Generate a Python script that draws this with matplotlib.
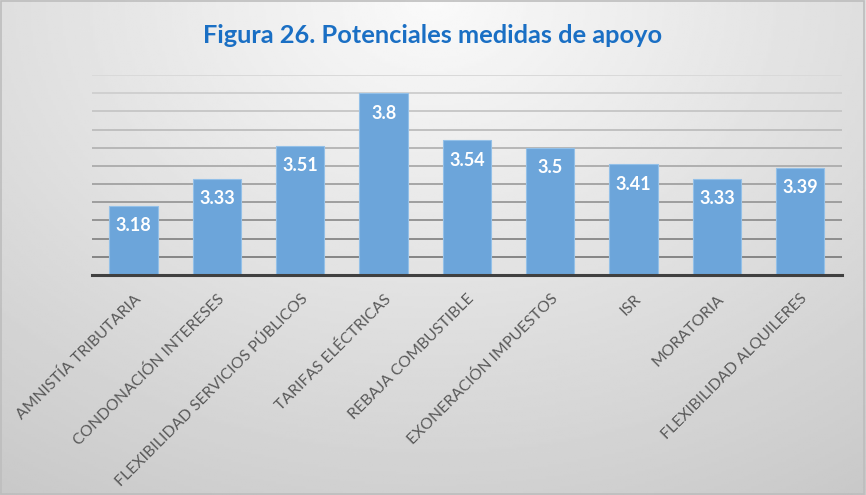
import matplotlib
matplotlib.use("Agg")
import matplotlib.pyplot as plt
import numpy as np

categories = ["AMNISTÍA TRIBUTARIA", "CONDONACIÓN INTERESES",
              "FLEXIBILIDAD SERVICIOS PÚBLICOS", "TARIFAS ELÉCTRICAS",
              "REBAJA COMBUSTIBLE", "EXONERACIÓN IMPUESTOS", "ISR",
              "MORATORIA", "FLEXIBILIDAD ALQUILERES"]
values = [3.18, 3.33, 3.51, 3.8, 3.54, 3.5, 3.41, 3.33, 3.39]
value_labels = ["3.18", "3.33", "3.51", "3.8", "3.54", "3.5", "3.41", "3.33", "3.39"]
title = "Figura 26. Potenciales medidas de apoyo"

plt.rcParams['font.family'] = ['Lato', 'DejaVu Sans']

fig = plt.figure(figsize=(8.66, 4.95), dpi=100)

# gradient background (light at top centre, darker towards the corners)
bg = fig.add_axes([0, 0, 1, 1], zorder=-10)
yy, xx = np.mgrid[0:1:200j, 0:1:350j]
dist = np.sqrt(((xx - 0.5) * 1.2) ** 2 + (yy * 0.9) ** 2)
shade = 0.98 - 0.18 * np.clip(dist, 0, 1.2)
bg.imshow(shade, cmap='gray', vmin=0, vmax=1, aspect='auto', extent=[0, 1, 1, 0])
bg.set_xlim(0, 1)
bg.set_ylim(1, 0)
bg.axis('off')
bg.add_patch(plt.Rectangle((0.001, 0.002), 0.997, 0.995, fill=False,
                           edgecolor='#bdbdbd', linewidth=1.2))

ax = fig.add_axes([0.1062, 0.4444, 0.866, 0.4040])
ax.patch.set_alpha(0)
x = np.arange(len(categories))
bars = ax.bar(x, values, width=0.58, color='#6ca5da', edgecolor='#93c0e8',
              linewidth=0.8, zorder=3)

for b, lab in zip(bars, value_labels):
    ax.text(b.get_x() + b.get_width() / 2, b.get_height() - 0.11, lab,
            ha='center', va='center', color='white', fontsize=13,
            fontweight='bold', zorder=4)

ax.set_ylim(2.8, 3.9)
ax.set_xlim(-0.5, len(categories) - 0.5)
ticks = np.arange(2.9, 3.95, 0.1)
ax.set_yticks(ticks)
ax.tick_params(axis='y', left=False, labelleft=False)
# gridlines fade from darker at the bottom to lighter at the top
for i, t in enumerate(ticks):
    c = 0.52 + 0.33 * i / (len(ticks) - 1)
    ax.axhline(t, color=(c, c, c), linewidth=1.4, zorder=1)

for s in ['top', 'right', 'left']:
    ax.spines[s].set_visible(False)
ax.spines['bottom'].set_color('#404040')
ax.spines['bottom'].set_linewidth(2.2)
ax.spines['bottom'].set_zorder(5)

ax.set_xticks(x)
ax.set_xticklabels(categories, rotation=45, ha='right', rotation_mode='anchor',
                   fontsize=11.3, color='#595959')
ax.tick_params(axis='x', length=0, pad=12)

fig.text(0.5, 0.929, title, ha='center', va='center', fontsize=18.3,
         fontweight='bold', color='#1a6fc4')

fig.savefig('out.png', dpi=100)
